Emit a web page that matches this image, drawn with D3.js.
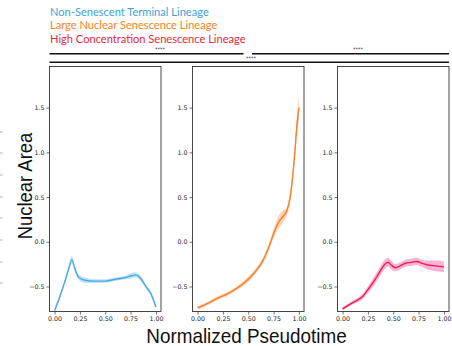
<!DOCTYPE html>
<html>
<head>
<meta charset="utf-8">
<script src="https://cdn.jsdelivr.net/npm/d3@7"></script>
<style>
  body { margin: 0; background: #fff; }
  svg { display: block; }
</style>
</head>
<body>
<script>
// legend / lineage names
const lineages = ["Non-Senescent Terminal Lineage", "Large Nuclear Senescence Lineage", "High Concentration Senescence Lineage"];
const legendColors = ["#3f9fe0", "#f5821f", "#e8263d"];
const lineColors = ["#4aa8e2", "#f5822a", "#f21a4f"];
const bandColors = ["#a9daf4", "#f9c39c", "#f59bc6"];

// pseudotime samples + mean + CI half width for each lineage
const blueX = [0, 0.05, 0.1, 0.14, 0.17, 0.2, 0.24, 0.3, 0.4, 0.5, 0.6, 0.7, 0.76, 0.8, 0.85, 0.9, 0.95, 1.0];
const blueY = [-0.77, -0.62, -0.45, -0.3, -0.2, -0.3, -0.4, -0.43, -0.44, -0.44, -0.42, -0.4, -0.38, -0.37, -0.41, -0.5, -0.58, -0.73];
const blueCI = [0.02, 0.02, 0.02, 0.03, 0.04, 0.03, 0.03, 0.03, 0.02, 0.02, 0.02, 0.02, 0.03, 0.03, 0.03, 0.02, 0.02, 0.02];

const orangeX = [0, 0.1, 0.2, 0.3, 0.4, 0.47, 0.55, 0.6, 0.65, 0.7, 0.76, 0.8, 0.84, 0.87, 0.9, 0.92, 0.94, 0.96, 0.98, 1.0];
const orangeY = [-0.74, -0.69, -0.63, -0.58, -0.51, -0.45, -0.36, -0.29, -0.2, -0.07, 0.12, 0.22, 0.28, 0.32, 0.42, 0.55, 0.75, 1.0, 1.3, 1.5];
const orangeCI = [0.02, 0.02, 0.02, 0.02, 0.02, 0.03, 0.03, 0.03, 0.03, 0.04, 0.05, 0.07, 0.07, 0.05, 0.05, 0.06, 0.07, 0.08, 0.11, 0.14];

const redX = [0, 0.1, 0.2, 0.26, 0.31, 0.36, 0.41, 0.45, 0.48, 0.52, 0.57, 0.62, 0.68, 0.73, 0.78, 0.84, 0.92, 1.0];
const redY = [-0.75, -0.68, -0.61, -0.52, -0.44, -0.35, -0.26, -0.23, -0.26, -0.29, -0.27, -0.24, -0.23, -0.22, -0.24, -0.26, -0.27, -0.28];
const redCI = [0.02, 0.02, 0.03, 0.04, 0.05, 0.05, 0.05, 0.05, 0.05, 0.04, 0.04, 0.04, 0.04, 0.04, 0.04, 0.05, 0.06, 0.06];

const series = [
  { x: blueX, y: blueY, ci: blueCI },
  { x: orangeX, y: orangeY, ci: orangeCI },
  { x: redX, y: redY, ci: redCI }
];

const yTicks = [-0.5, 0.0, 0.5, 1.0, 1.5];
const xTicks = [0, 0.25, 0.5, 0.75, 1.0];

// significance brackets: [fromPanel, toPanel, label]
const brackets = [[0, 1, "****"], [1, 2, "****"], [0, 2, "****"]];

const width = 452, height = 346;
const svg = d3.select("body").append("svg")
  .attr("width", width)
  .attr("height", height);

// layout
const panelLeft = [49.5, 192.5, 337.5];
const panelW = 111.5;
const plotTop = 66.5, plotBottom = 311.5;

const y = d3.scaleLinear().domain([-0.78, 1.96]).range([plotBottom, plotTop]);

// legend
svg.selectAll(".legend")
  .data(lineages)
  .enter().append("text")
  .attr("x", 50)
  .attr("y", (d, i) => 15.5 + i * 13.8)
  .attr("font-family", "Lato, 'Open Sans', sans-serif")
  .attr("font-size", 11.1)
  .attr("fill", (d, i) => legendColors[i])
  .text(d => d);

// brackets
const bracketY = [53.8, 53.8, 62.2];
brackets.forEach((b, i) => {
  let x1 = panelLeft[b[0]];
  let x2 = panelLeft[b[1]] + panelW;
  if (i == 0) x2 = 243.5;
  if (i == 1) x1 = 252;
  svg.append("line")
    .attr("x1", x1).attr("x2", x2)
    .attr("y1", bracketY[i]).attr("y2", bracketY[i])
    .attr("stroke", "#111").attr("stroke-width", 1.4);
  const lx = i == 2 ? 251 : (i == 0 ? 160 : 358);
  const ly = i == 2 ? 59.5 : 51;
  svg.append("text")
    .attr("x", lx).attr("y", ly)
    .attr("text-anchor", "middle")
    .attr("font-family", "DejaVu Sans, sans-serif")
    .attr("font-size", 5)
    .attr("fill", "#333")
    .text(b[2]);
});

// panels
series.forEach((s, i) => {
  const x = d3.scaleLinear().domain([-0.05, 1.05]).range([panelLeft[i], panelLeft[i] + panelW]);
  const g = svg.append("g");

  const pts = s.x.map((v, j) => ({ x: v, y: s.y[j], ci: s.ci[j] }));

  g.append("path")
    .datum(pts)
    .attr("fill", bandColors[i])
    .attr("opacity", 0.75)
    .attr("d", d3.area()
      .x(d => x(d.x))
      .y0(d => y(d.y - d.ci))
      .y1(d => y(d.y + d.ci))
      .curve(d3.curveMonotoneX));

  g.append("path")
    .datum(pts)
    .attr("fill", "none")
    .attr("stroke", lineColors[i])
    .attr("stroke-width", 1.4)
    .attr("d", d3.line()
      .x(d => x(d.x))
      .y(d => y(d.y))
      .curve(d3.curveMonotoneX));

  // frame
  g.append("rect")
    .attr("x", panelLeft[i]).attr("y", plotTop)
    .attr("width", panelW).attr("height", plotBottom - plotTop)
    .attr("fill", "none")
    .attr("stroke", "#333").attr("stroke-width", 0.9);

  const yAxis = g.append("g")
    .attr("transform", `translate(${panelLeft[i]},0)`)
    .call(d3.axisLeft(y).tickValues(yTicks).tickSize(3).tickPadding(2)
      .tickFormat(d => d3.format(".1f")(d).replace("-", "\u2212")));
  const xAxis = g.append("g")
    .attr("transform", `translate(0,${plotBottom})`)
    .call(d3.axisBottom(x).tickValues(xTicks).tickSize(3).tickPadding(2)
      .tickFormat(d3.format(".2f")));
  [yAxis, xAxis].forEach(a => {
    a.select(".domain").remove();
    a.selectAll("line").attr("stroke", "#333").attr("stroke-width", 0.7);
    a.selectAll("text")
      .attr("font-family", "DejaVu Sans, sans-serif")
      .attr("font-size", 6.3)
      .attr("fill", "#222");
  });
});

// axis titles (narrow sans, squeezed along the text)
svg.append("text")
  .attr("transform", "translate(31.5,186) rotate(-90) scale(0.88,1)")
  .attr("text-anchor", "middle")
  .attr("font-family", "Liberation Sans, Arial, sans-serif")
  .attr("font-size", 21)
  .attr("fill", "#111")
  .text("Nuclear Area");

svg.append("text")
  .attr("transform", "translate(246.5,343) scale(0.9,1)")
  .attr("text-anchor", "middle")
  .attr("font-family", "Liberation Sans, Arial, sans-serif")
  .attr("font-size", 21)
  .attr("fill", "#111")
  .text("Normalized Pseudotime");

// faint marks along the cropped left edge
const edgeMarks = [132, 153, 175, 197, 218, 240, 262, 283];
svg.selectAll(".edge")
  .data(edgeMarks)
  .enter().append("line")
  .attr("x1", 0).attr("x2", 2.5)
  .attr("y1", d => d).attr("y2", d => d)
  .attr("stroke", "#999").attr("stroke-width", 0.8);
</script>
</body>
</html>
